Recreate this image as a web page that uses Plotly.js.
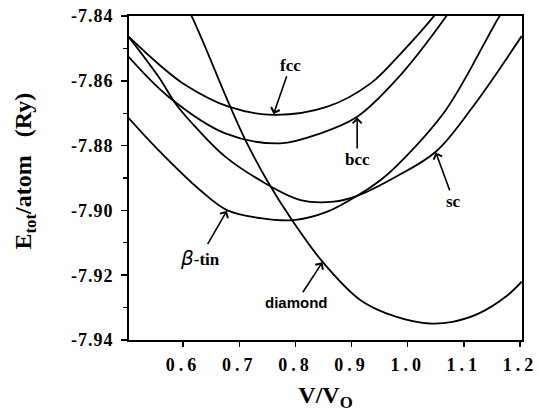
<!DOCTYPE html>
<html>
<head>
<meta charset="utf-8">
<script src="https://cdn.plot.ly/plotly-3.0.1.min.js"></script>
<style>
html,body{margin:0;padding:0;background:#fff;}
#chart{width:539px;height:412px;}
#chart .xtick text{font-family:'Liberation Serif',serif !important;letter-spacing:4px;}
#chart .ytick text{font-family:'Liberation Serif',serif !important;letter-spacing:1px;}
#chart .annotation text{font-family:'Liberation Serif',serif !important;}
#chart .annotation[data-index="4"] text{font-family:'Liberation Sans',sans-serif !important;}
#chart .g-xtitle text{font-family:'Liberation Serif',serif !important;}
</style>
</head>
<body>
<div id="chart"></div>
<script>
// Volume ratio V/V0 and total energy per atom (Ry)
const fccX = [0.503, 0.556, 0.604, 0.681, 0.761, 0.857, 0.934, 0.988, 1.046, 1.06];
const fccY = [-7.8464, -7.8548, -7.8613, -7.8680, -7.8705, -7.8680, -7.8608, -7.8515, -7.8402, -7.8370];

const bccX = [0.503, 0.574, 0.675, 0.773, 0.845, 0.910, 0.979, 1.068, 1.08];
const bccY = [-7.8526, -7.8649, -7.8762, -7.8793, -7.8762, -7.8711, -7.8598, -7.8402, -7.8370];

const scX = [0.503, 0.556, 0.586, 0.616, 0.675, 0.746, 0.809, 0.868, 0.910, 0.979, 1.05, 1.116, 1.203];
const scY = [-7.8464, -7.8587, -7.8669, -7.8731, -7.8834, -7.8916, -7.8968, -7.8973, -7.8955, -7.8896, -7.8819, -7.8680, -7.8462];

const btinX = [0.503, 0.556, 0.630, 0.678, 0.7375, 0.797, 0.857, 0.910, 0.952, 0.979, 1.068, 1.163, 1.18];
const btinY = [-7.8715, -7.8814, -7.8937, -7.8999, -7.9024, -7.9030, -7.9004, -7.8955, -7.8906, -7.8865, -7.8690, -7.8402, -7.8360];

const diaX = [0.60, 0.6155, 0.684, 0.711, 0.749, 0.794, 0.848, 0.916, 0.979, 1.038, 1.080, 1.127, 1.175, 1.203];
const diaY = [-7.8355, -7.8402, -7.8680, -7.8783, -7.8906, -7.9030, -7.9158, -7.9277, -7.9328, -7.9349, -7.9344, -7.9318, -7.9266, -7.9220];

const xTickVals = [0.6, 0.7, 0.8, 0.9, 1.0, 1.1, 1.2];
const xTickText = ["0.6", "0.7", "0.8", "0.9", "1.0", "1.1", "1.2"];
const yTickVals = [-7.84, -7.86, -7.88, -7.90, -7.92, -7.94];
const yTickText = ["-7.84", "-7.86", "-7.88", "-7.90", "-7.92", "-7.94"];

const SERIF = "Liberation Serif, Times New Roman, serif";
const SANS = "Liberation Sans, Arial, sans-serif";

// label: [text, arrow tip x, tip y, ax, ay, font family, size]
const labels = [
  ["<b>fcc</b>", 0.761, -7.8703, 17, -49, SERIF, 17],
  ["<b>bcc</b>", 0.910, -7.8713, 0, 42, SERIF, 17],
  ["<b>sc</b>", 1.05, -7.8821, 18, 49, SERIF, 17],
  ["<span style=\"font-family:'DejaVu Sans';font-style:italic;font-size:20px\">β</span><b>-tin</b>", 0.678, -7.9001, -27, 47, SERIF, 17],
  ["<b>diamond</b>", 0.848, -7.9160, -26, 40, SANS, 15]
];

const line = {color: "#000", width: 1.8, shape: "spline", smoothing: 1};
const series = [[fccX, fccY], [bccX, bccY], [scX, scY], [btinX, btinY], [diaX, diaY]];
const traces = series.map(s => ({x: s[0], y: s[1], mode: "lines", line: line, hoverinfo: "skip", showlegend: false}));

const annotations = labels.map(l => ({
  x: l[1], y: l[2], ax: l[3], ay: l[4], axref: "pixel", ayref: "pixel",
  text: l[0], showarrow: true, arrowhead: 4, arrowsize: 1.1, arrowwidth: 1.6, arrowcolor: "#000",
  font: {family: l[5], size: l[6], color: "#000"}
}));

// y-axis title placed as a rotated annotation so its position matches the figure
annotations.push({
  xref: "paper", yref: "paper", x: -0.267, y: 0.52, showarrow: false, textangle: -90,
  xanchor: "center", yanchor: "middle",
  text: "<b>E<sub>tot</sub>/atom\u00a0\u00a0\u00a0(Ry)</b>",
  font: {family: SERIF, size: 24, color: "#000"}
});

const layout = {
  width: 539, height: 412,
  margin: {l: 129, r: 17, t: 16, b: 72},
  paper_bgcolor: "#fff", plot_bgcolor: "#fff",
  font: {family: SERIF, color: "#000"},
  xaxis: {
    range: [0.5036, 1.2036], tickvals: xTickVals, ticktext: xTickText.map(t => "<b>" + t + "</b>"),
    ticks: "outside", ticklen: 5, tickwidth: 1.5, tickcolor: "#000", ticklabelstandoff: 3,
    showline: true, linecolor: "#000", linewidth: 1.8, mirror: true,
    showgrid: false, zeroline: false,
    tickfont: {family: SERIF, size: 18, color: "#000"},
    title: {text: "<b>V/V<sub>O</sub></b>", font: {family: SERIF, size: 24, color: "#000"}, standoff: 14}
  },
  yaxis: {
    range: [-7.94, -7.84], tickvals: yTickVals, ticktext: yTickText.map(t => "<b>" + t + "</b>"),
    ticks: "outside", ticklen: 6, tickwidth: 1.5, tickcolor: "#000", ticklabelstandoff: 4,
    minor: {ticks: "outside", ticklen: 4, tickwidth: 1.2, tickcolor: "#000", dtick: 0.01, showgrid: false},
    showline: true, linecolor: "#000", linewidth: 1.8, mirror: true,
    showgrid: false, zeroline: false,
    tickfont: {family: SERIF, size: 18, color: "#000"}
  },
  annotations: annotations
};

Plotly.newPlot("chart", traces, layout, {staticPlot: true, displayModeBar: false});
</script>
</body>
</html>
